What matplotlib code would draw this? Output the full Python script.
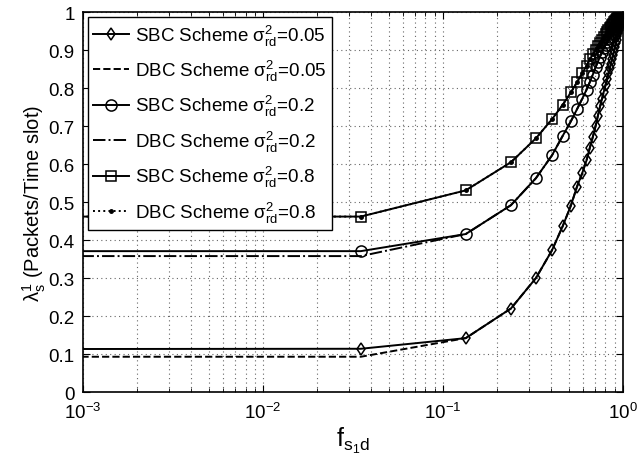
import matplotlib
matplotlib.use("Agg")
import matplotlib.pyplot as plt
from matplotlib.ticker import LogLocator, NullFormatter

plt.rcParams['font.family'] = ['Liberation Sans', 'DejaVu Sans']
plt.rcParams['mathtext.fontset'] = 'custom'
plt.rcParams['mathtext.rm'] = 'Liberation Sans'
plt.rcParams['mathtext.it'] = 'Liberation Sans:italic'
plt.rcParams['mathtext.default'] = 'regular'

# f_{s1d} grid (first point lies left of the axis range)
f_vals = [1e-4, 0.035, 0.134, 0.239, 0.329, 0.404, 0.463, 0.515, 0.556, 0.595,
          0.629, 0.656, 0.682, 0.706, 0.728, 0.748, 0.767, 0.785, 0.802, 0.818,
          0.833, 0.847, 0.860, 0.872, 0.884, 0.895, 0.906, 0.916, 0.926, 0.935,
          0.944, 0.952, 0.960, 0.967, 0.974, 0.980, 0.986, 0.991]

sbc_005 = [0.113, 0.114, 0.142, 0.220, 0.300, 0.373, 0.436, 0.491, 0.540, 0.576,
           0.610, 0.643, 0.672, 0.700, 0.728, 0.752, 0.772, 0.791, 0.808, 0.824,
           0.839, 0.852, 0.865, 0.877, 0.888, 0.899, 0.909, 0.919, 0.928, 0.937,
           0.945, 0.953, 0.960, 0.967, 0.973, 0.979, 0.985, 0.990]
dbc_005 = [0.093, 0.093] + sbc_005[2:]

sbc_02 = [0.371, 0.371, 0.416, 0.492, 0.563, 0.623, 0.674, 0.713, 0.744, 0.772,
          0.796, 0.816, 0.836, 0.855, 0.870, 0.883, 0.895, 0.905, 0.914, 0.922,
          0.929, 0.936, 0.942, 0.947, 0.952, 0.957, 0.961, 0.965, 0.969, 0.972,
          0.975, 0.978, 0.980, 0.982, 0.984, 0.986, 0.988, 0.990]
dbc_02 = [0.358, 0.358] + sbc_02[2:]

sbc_08 = [0.462, 0.462, 0.531, 0.605, 0.668, 0.718, 0.756, 0.789, 0.815, 0.839,
          0.859, 0.876, 0.889, 0.901, 0.911, 0.920, 0.928, 0.935, 0.942, 0.948,
          0.953, 0.958, 0.962, 0.966, 0.970, 0.973, 0.976, 0.979, 0.981, 0.983,
          0.985, 0.987, 0.989, 0.990, 0.991, 0.992, 0.993, 0.994]
dbc_08 = list(sbc_08)

yticks = [0, 0.1, 0.2, 0.3, 0.4, 0.5, 0.6, 0.7, 0.8, 0.9, 1]
ytick_labels = ['0', '0.1', '0.2', '0.3', '0.4', '0.5', '0.6', '0.7', '0.8', '0.9', '1']

labels = [r'SBC Scheme $\sigma^2_{rd}$=0.05', r'DBC Scheme $\sigma^2_{rd}$=0.05',
          r'SBC Scheme $\sigma^2_{rd}$=0.2', r'DBC Scheme $\sigma^2_{rd}$=0.2',
          r'SBC Scheme $\sigma^2_{rd}$=0.8', r'DBC Scheme $\sigma^2_{rd}$=0.8']

fig = plt.figure(figsize=(6.44, 4.56), dpi=100)
ax = fig.add_axes([0.129, 0.138, 0.838, 0.833])

lw = 1.4
ax.semilogx(f_vals, sbc_005, 'k-d', lw=lw, ms=6, mfc='none', mew=1.1, label=labels[0])
ax.semilogx(f_vals, dbc_005, 'k--', lw=lw, label=labels[1])
ax.semilogx(f_vals, sbc_02, 'k-o', lw=lw, ms=8, mfc='none', mew=1.1, label=labels[2])
ax.semilogx(f_vals, dbc_02, 'k-.', lw=lw, label=labels[3])
ax.semilogx(f_vals, sbc_08, 'k-s', lw=lw, ms=7, mfc='none', mew=1.1, label=labels[4])
ax.semilogx(f_vals, dbc_08, 'k:.', lw=lw, ms=5, label=labels[5])

ax.set_xlim(1e-3, 1)
ax.set_ylim(0, 1)
ax.set_yticks(yticks)
ax.set_yticklabels(ytick_labels)
ax.xaxis.set_minor_locator(LogLocator(base=10, subs=range(2, 10)))
ax.xaxis.set_minor_formatter(NullFormatter())

grid_style = dict(ls=(0, (1, 3)), color='0.4', lw=0.8)
ax.grid(True, which='major', **grid_style)
ax.grid(True, which='minor', axis='x', **grid_style)
ax.tick_params(which='both', direction='in', top=True, right=True, labelsize=13.5)
ax.tick_params(which='major', length=5)
ax.tick_params(which='minor', length=3)
ax.tick_params(axis='x', which='major', pad=7)
ax.tick_params(axis='y', which='major', pad=6)
for s in ax.spines.values():
    s.set_linewidth(1.2)

ax.set_xlabel(r'$f_{s_1d}$', fontsize=18, labelpad=2)
ax.set_ylabel(r'$\lambda^1_s$ (Packets/Time slot)', fontsize=14.5, labelpad=0)

leg = ax.legend(loc='upper left', fontsize=13.5, handlelength=1.9, handletextpad=0.3,
                labelspacing=0.55, borderaxespad=0.25, borderpad=0.3, fancybox=False,
                edgecolor='k', framealpha=1)
leg.get_frame().set_linewidth(1.0)

fig.savefig('out.png', dpi=100)
